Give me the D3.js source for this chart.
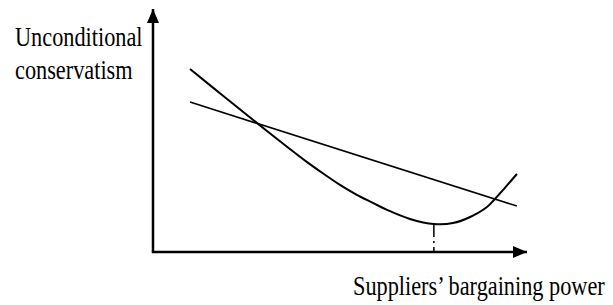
<!DOCTYPE html>
<html>
<head>
<meta charset="utf-8">
<script src="https://cdn.jsdelivr.net/npm/d3@7"></script>
<style>
  body { margin: 0; background: #fff; }
  text { font-family: "Liberation Serif", "Times New Roman", serif; fill: #000; }
</style>
</head>
<body>
<div id="chart"></div>
<script>
// bargaining power (0-100) vs conservatism (0-100)
const curveX = [9.9, 19.3, 28.6, 36.6, 41.2, 45.5, 50.0, 54.5, 58.8, 62.6, 68.7, 75.1, 80.2, 84.8, 89.3, 91.4, 97.3];
const curveY = [75.3, 63.6, 52.1, 42.4, 37.0, 32.3, 27.6, 23.5, 20.2, 17.3, 13.6, 11.5, 11.9, 14.4, 18.5, 21.8, 32.1];
const lineX = [9.9, 97.3];
const lineY = [61.7, 18.9];
const minimumX = 75.1;
const minimumY = 11.5;
const yLabel = ["Unconditional", "conservatism"];
const xLabel = "Suppliers\u2019 bargaining power";

const width = 613, height = 305;

const svg = d3.select("#chart")
  .append("svg")
  .attr("width", width)
  .attr("height", height);

const x = d3.scaleLinear().domain([0, 100]).range([153, 527]);
const y = d3.scaleLinear().domain([0, 100]).range([252, 9]);

const defs = svg.append("defs");
defs.append("marker")
  .attr("id", "arrow")
  .attr("viewBox", "0 0 14 12")
  .attr("refX", 14)
  .attr("refY", 6)
  .attr("markerWidth", 14)
  .attr("markerHeight", 12)
  .attr("markerUnits", "userSpaceOnUse")
  .attr("orient", "auto")
  .append("path")
  .attr("d", "M0,0L14,6L0,12Z")
  .attr("fill", "#000");

// axes
svg.append("path")
  .attr("d", `M${x(0)},${y(0)}V${y(100)}`)
  .attr("stroke", "#000")
  .attr("stroke-width", 2.5)
  .attr("fill", "none")
  .attr("marker-end", "url(#arrow)");

svg.append("path")
  .attr("d", `M${x(0) - 1.2},${y(0)}H${x(100)}`)
  .attr("stroke", "#000")
  .attr("stroke-width", 2.5)
  .attr("fill", "none")
  .attr("marker-end", "url(#arrow)");

// straight line
svg.append("line")
  .attr("x1", x(lineX[0])).attr("y1", y(lineY[0]))
  .attr("x2", x(lineX[1])).attr("y2", y(lineY[1]))
  .attr("stroke", "#000")
  .attr("stroke-width", 1.6);

// U-shaped curve
const line = d3.line()
  .x(d => x(d[0]))
  .y(d => y(d[1]))
  .curve(d3.curveCatmullRom);

svg.append("path")
  .datum(d3.zip(curveX, curveY))
  .attr("d", line)
  .attr("stroke", "#000")
  .attr("stroke-width", 2)
  .attr("fill", "none");

// dash-dot drop line at minimum
svg.append("line")
  .attr("x1", x(minimumX)).attr("y1", y(minimumY))
  .attr("x2", x(minimumX)).attr("y2", y(0))
  .attr("stroke", "#000")
  .attr("stroke-width", 1.5)
  .attr("stroke-dasharray", "13,4,2,4");

// labels
const sy = 1.2;
const yl = svg.append("text")
  .attr("font-size", 22.3)
  .attr("transform", `translate(15,0) scale(1,${sy})`);
yLabel.forEach((t, i) => {
  yl.append("tspan")
    .attr("x", 0)
    .attr("y", (46 + i * 33) / sy)
    .text(t);
});

svg.append("text")
  .attr("font-size", 22.3)
  .attr("transform", `translate(353,295) scale(1,${sy})`)
  .text(xLabel);
</script>
</body>
</html>
